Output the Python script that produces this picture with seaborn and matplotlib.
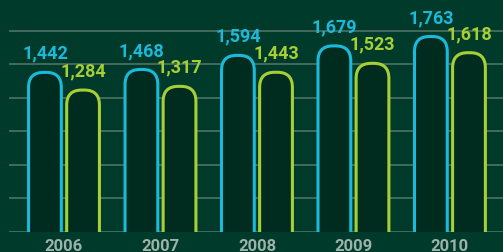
import matplotlib
matplotlib.use("Agg")
import matplotlib.pyplot as plt
from matplotlib.patches import FancyBboxPatch
import seaborn as sns
import pandas as pd

years = ["2006", "2007", "2008", "2009", "2010"]
series_a = [1442, 1468, 1594, 1679, 1763]
series_b = [1284, 1317, 1443, 1523, 1618]
labels_a = ["1,442", "1,468", "1,594", "1,679", "1,763"]
labels_b = ["1,284", "1,317", "1,443", "1,523", "1,618"]

bg = "#003a2b"
fill = "#002c1f"
cyan = "#1bb9da"
lime = "#a6cf35"
grid = "#4d7363"
txt = "#9db2a8"

df = pd.DataFrame({
    "year": years * 2,
    "value": series_a + series_b,
    "series": ["a"] * 5 + ["b"] * 5,
})

sns.set_style("dark")
plt.rcParams["font.family"] = ["Roboto", "DejaVu Sans"]

fig = plt.figure(figsize=(5.03, 2.53), dpi=100, facecolor=bg)
ax = fig.add_axes([9 / 503, 20 / 253, 494 / 503, 233 / 253])
ax.set_facecolor(bg)

ymax = 2085
ax.set_ylim(0, ymax)

for v in range(0, 2000, 300):
    ax.axhline(v, color=grid, lw=1.2, zorder=0)

sns.barplot(data=df, x="year", y="value", hue="series", palette=[cyan, lime],
            width=0.79, gap=0.06, legend=False, ax=ax, zorder=1)
ax.set_xlim(-0.57, 4.55)

# swap bars for round-topped outlines
px_x = 494 / (4.55 + 0.57)
px_y = 233 / ymax
aspect = px_x / px_y
bars = list(ax.patches)
edges = [cyan] * 5 + [lime] * 5
vals = labels_a + labels_b
lw = 2.2
inset_px = lw / 72 * 100 / 2
for p, ec, lab in zip(bars, edges, vals):
    x0, w, h = p.get_x(), p.get_width(), p.get_height()
    p.set_visible(False)
    ix = inset_px / px_x
    iy = inset_px / px_y
    rb = FancyBboxPatch((x0 + ix, -300), w - 2 * ix, h + 300 - iy,
                        boxstyle="round,pad=0,rounding_size=%f" % (15 / px_x),
                        mutation_aspect=aspect, facecolor=fill, edgecolor=ec,
                        lw=lw, zorder=2, clip_on=True)
    ax.add_patch(rb)
    ax.text(x0 + w / 2, h + 9 / px_y, lab, ha="center", va="bottom",
            color=ec, fontsize=13, fontweight="bold", zorder=3)

ax.set_xlabel("")
ax.set_ylabel("")
ax.set_yticks([])
ax.tick_params(axis="x", length=0, pad=4, colors=txt, labelsize=12)
for t in ax.get_xticklabels():
    t.set_fontweight("bold")
for s in ax.spines.values():
    s.set_visible(False)
ax.grid(False)

fig.savefig("out.png", dpi=100, facecolor=bg)
